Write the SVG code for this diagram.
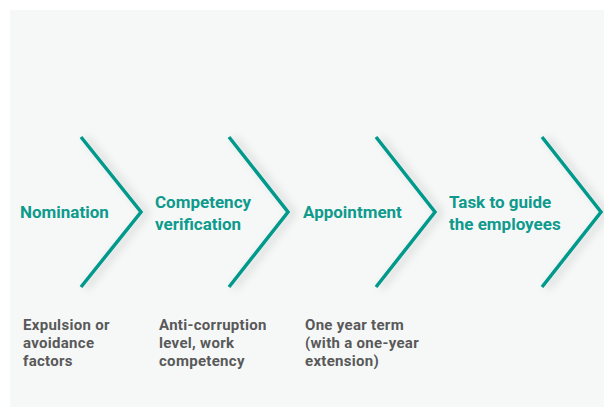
<svg xmlns="http://www.w3.org/2000/svg" width="604" height="407" viewBox="0 0 604 407">
  <defs>
    <filter id="sh" x="-50%" y="-20%" width="200%" height="140%">
      <feDropShadow dx="5" dy="1" stdDeviation="4" flood-color="#000" flood-opacity="0.18"/>
    </filter>
  </defs>
  <style>
    .chev { fill: none; stroke: #00998b; stroke-width: 3.5; stroke-linejoin: miter; filter: url(#sh); }
    .lbl { font-family: Roboto, "Liberation Sans", sans-serif; font-weight: bold; font-size: 17px; fill: #0e9a8c; }
    .desc { font-family: Roboto, "Liberation Sans", sans-serif; font-weight: bold; font-size: 15px; letter-spacing: 0.3px; fill: #595959; }
  </style>
  <rect x="0" y="0" width="604" height="407" fill="#ffffff"/>
  <rect x="10" y="10" width="594" height="397" fill="#f6f8f8"/>
  <g id="connectors">
    <polyline class="chev" points="81,137 141,212 81,287"/>
    <polyline class="chev" points="229,137 288,212 229,287"/>
    <polyline class="chev" points="376,137 435,212 376,287"/>
    <polyline class="chev" points="542,137 601,212 542,287"/>
  </g>
  <g id="node-nomination">
    <text class="lbl" x="20" y="218">Nomination</text>
    <text class="desc" x="23" y="330">Expulsion or</text>
    <text class="desc" x="23" y="348">avoidance</text>
    <text class="desc" x="23" y="366">factors</text>
  </g>
  <g id="node-competency">
    <text class="lbl" x="155" y="208">Competency</text>
    <text class="lbl" x="155" y="230">verification</text>
    <text class="desc" x="159" y="330">Anti-corruption</text>
    <text class="desc" x="159" y="348">level, work</text>
    <text class="desc" x="159" y="366">competency</text>
  </g>
  <g id="node-appointment">
    <text class="lbl" x="303" y="218">Appointment</text>
    <text class="desc" x="305" y="330">One year term</text>
    <text class="desc" x="305" y="348">(with a one-year</text>
    <text class="desc" x="305" y="366">extension)</text>
  </g>
  <g id="node-task">
    <text class="lbl" x="449" y="208">Task to guide</text>
    <text class="lbl" x="449" y="230">the employees</text>
  </g>
</svg>
